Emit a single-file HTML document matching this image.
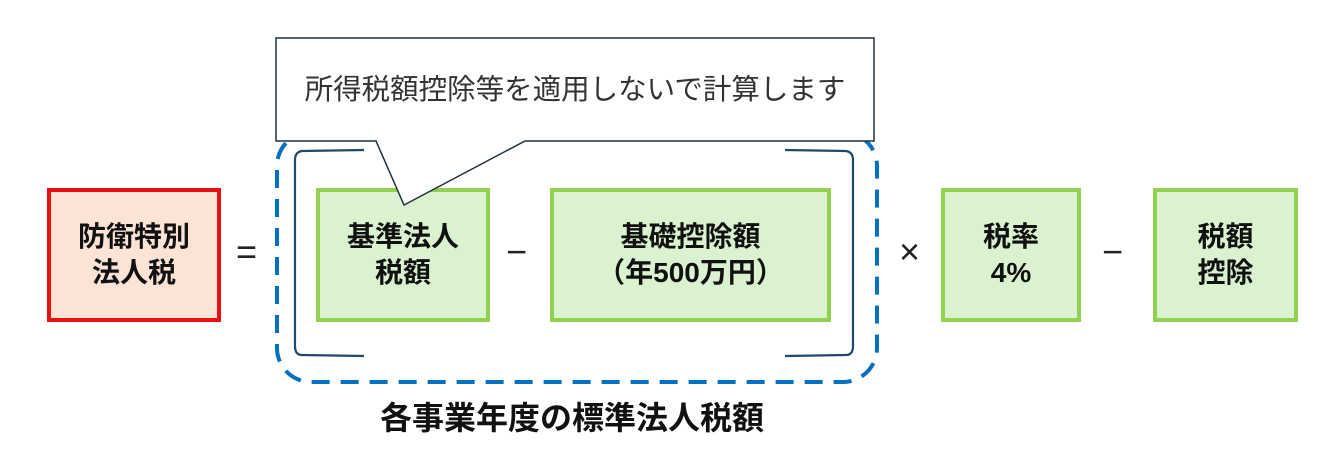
<!DOCTYPE html>
<html><head><meta charset="utf-8"><style>
body{margin:0;width:1341px;height:467px;background:#fff;position:relative;overflow:hidden;font-family:"Liberation Sans","Noto Sans CJK JP",sans-serif}
.b{position:absolute;box-sizing:border-box;display:flex;align-items:center;justify-content:center;text-align:center;font-weight:bold;font-size:28px;line-height:36px;color:#111}
.g{background:#daf2d0;border:4px solid #92d050}
.op{position:absolute;font-size:36px;color:#222;top:232px;line-height:40px}
</style></head><body>
<svg width="1341" height="467" style="position:absolute;left:0;top:0">
<rect x="277" y="132" width="600" height="250" rx="34" fill="none" stroke="#0070c0" stroke-width="4" stroke-dasharray="18,11"/>
<path d="M364,150 L302,151 Q295,152 295,160 L295,346 Q295,355 302,355 L364,356" fill="none" stroke="#1f4a6a" stroke-width="2.2"/>
<path d="M785,150 L846,151 Q853,152 853,160 L853,346 Q853,355 846,355 L785,356" fill="none" stroke="#1f4a6a" stroke-width="2.2"/>
</svg>
<div class="b" style="left:47px;top:188px;width:174px;height:134px;background:#fbe3d6;border:4px solid #e81010">防衛特別<br>法人税</div>
<div class="b g" style="left:316px;top:188px;width:174px;height:134px">基準法人<br>税額</div>
<div class="b g" style="left:550px;top:188px;width:281px;height:134px">基礎控除額<br>（年500万円）</div>
<div class="b g" style="left:941px;top:188px;width:140px;height:134px">税率<br>4%</div>
<div class="b g" style="left:1153px;top:188px;width:145px;height:134px">税額<br>控除</div>
<svg width="1341" height="467" style="position:absolute;left:0;top:0">
<path d="M276,38 L874,38 L874,141 L525,141 L404,205 L376,141 L276,141 Z" fill="#fff" stroke="#1f3040" stroke-width="1.5"/>
<text x="575" y="99" text-anchor="middle" font-size="28.5" fill="#333" font-family="Liberation Sans,Noto Sans CJK JP,sans-serif">所得税額控除等を適用しないで計算します</text>
</svg>
<div class="op" style="left:236px">=</div>
<div class="op" style="left:506px">−</div>
<div class="op" style="left:899px">×</div>
<div class="op" style="left:1102px">−</div>
<div class="b" style="left:272px;top:396px;width:600px;height:44px;font-size:32px">各事業年度の標準法人税額</div>
</body></html>
